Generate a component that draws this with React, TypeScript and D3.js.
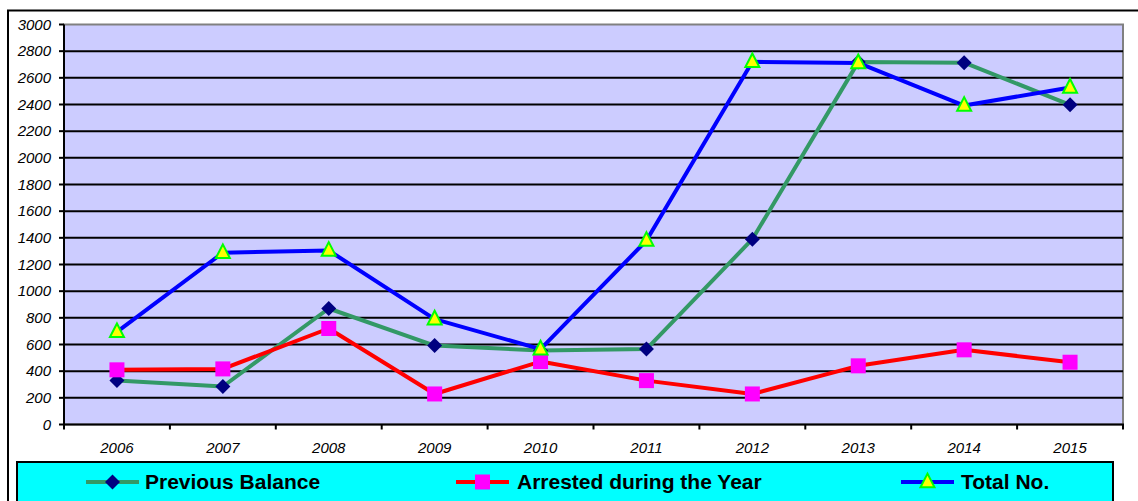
import React from "react";
import * as d3 from "d3";

const years = ["2006", "2007", "2008", "2009", "2010", "2011", "2012", "2013", "2014", "2015"];
const previousBalance = [330, 285, 870, 592, 555, 566, 1390, 2718, 2714, 2398];
const arrested = [410, 417, 720, 229, 472, 329, 229, 440, 560, 467];
const totalNo = [695, 1288, 1305, 790, 565, 1380, 2720, 2712, 2392, 2528];
const yTicks = d3.range(0, 3001, 200);

const W = 1138;
const H = 501;
const PL = 64, PR = 1123, PT = 24.5, PB = 424.5;
const FONT = "'Liberation Sans', Arial, sans-serif";

export default function App() {
  const x = d3.scaleBand<string>().domain(years).range([PL, PR]).padding(0);
  const y = d3.scaleLinear().domain([0, 3000]).range([PB, PT]);
  const cx = (i: number) => (x(years[i]) as number) + x.bandwidth() / 2;
  const line = d3
    .line<number>()
    .x((_, i) => cx(i))
    .y((d) => y(d));

  const diamond = (px: number, py: number, r = 7.5) =>
    `M${px},${py - r}L${px + r},${py}L${px},${py + r}L${px - r},${py}Z`;
  const triangle = (px: number, py: number, s = 7) =>
    `M${px},${py - s * 1.2}L${px + s},${py + s * 0.75}L${px - s},${py + s * 0.75}Z`;

  const series = [
    { name: "Previous Balance", data: previousBalance, color: "#339966", marker: "diamond" },
    { name: "Arrested during the Year", data: arrested, color: "#FF0000", marker: "square" },
    { name: "Total No.", data: totalNo, color: "#0000FF", marker: "triangle" },
  ];

  const drawMarker = (m: string, px: number, py: number, key: string | number) => {
    if (m === "diamond") return <path key={key} d={diamond(px, py)} fill="#000080" />;
    if (m === "square")
      return <rect key={key} x={px - 7.5} y={py - 7.5} width={15} height={15} fill="#FF00FF" />;
    return (
      <path key={key} d={triangle(px, py)} fill="#FFFF00" stroke="#00FF00" strokeWidth={2} strokeLinejoin="miter" />
    );
  };

  const legendItems = [
    { s: series[0], lx: 86, tx: 145 },
    { s: series[1], lx: 456, tx: 517 },
    { s: series[2], lx: 901, tx: 961 },
  ];
  const legendY = 482;

  return (
    <svg width={W} height={H} style={{ position: "absolute", left: 0, top: 0, background: "#fff" }}>
      {/* outer chart border */}
      <rect x={8} y={10.5} width={1140} height={520} fill="#fff" stroke="#000" strokeWidth={2} />
      {/* plot area */}
      <rect x={PL} y={PT} width={PR - PL} height={PB - PT} fill="#CCCCFF" stroke="#808080" strokeWidth={2} />
      {/* gridlines */}
      {yTicks.filter((t) => t > 0 && t < 3000).map((t) => (
        <line key={t} x1={PL} x2={PR} y1={y(t)} y2={y(t)} stroke="#000" strokeWidth={2} />
      ))}
      {/* axes */}
      <line x1={PL} x2={PL} y1={PT} y2={PB + 1} stroke="#000" strokeWidth={2} />
      <line x1={PL - 1} x2={PR + 1} y1={PB} y2={PB} stroke="#000" strokeWidth={2} />
      {yTicks.map((t) => (
        <g key={t}>
          <line x1={PL - 5} x2={PL} y1={y(t)} y2={y(t)} stroke="#000" strokeWidth={2} />
          <text
            x={51}
            y={y(t)}
            dy="0.35em"
            textAnchor="end"
            fontFamily={FONT}
            fontStyle="italic"
            fontSize={15}
            fill="#000"
          >
            {t}
          </text>
        </g>
      ))}
      {d3.range(years.length + 1).map((i) => {
        const px = PL + i * x.bandwidth();
        return <line key={i} x1={px} x2={px} y1={PB} y2={PB + 5} stroke="#000" strokeWidth={2} />;
      })}
      {years.map((yr, i) => (
        <text
          key={yr}
          x={cx(i)}
          y={448}
          dy="0.35em"
          textAnchor="middle"
          fontFamily={FONT}
          fontStyle="italic"
          fontSize={15}
          fill="#000"
        >
          {yr}
        </text>
      ))}
      {/* series */}
      {series.map((s) => (
        <g key={s.name}>
          <path d={line(s.data) || ""} fill="none" stroke={s.color} strokeWidth={4} strokeLinejoin="round" />
          {s.data.map((v, i) => drawMarker(s.marker, cx(i), y(v), i))}
        </g>
      ))}
      {/* legend */}
      <rect x={17} y={462} width={1096} height={60} fill="#00FFFF" stroke="#000" strokeWidth={2} />
      {legendItems.map(({ s, lx, tx }) => (
        <g key={s.name}>
          <line x1={lx} x2={lx + 53} y1={legendY} y2={legendY} stroke={s.color} strokeWidth={4} />
          {drawMarker(s.marker, lx + 26.5, legendY, "m")}
          <text x={tx} y={legendY} dy="0.35em" fontFamily={FONT} fontWeight="bold" fontSize={21} fill="#000">
            {s.name}
          </text>
        </g>
      ))}
    </svg>
  );
}
